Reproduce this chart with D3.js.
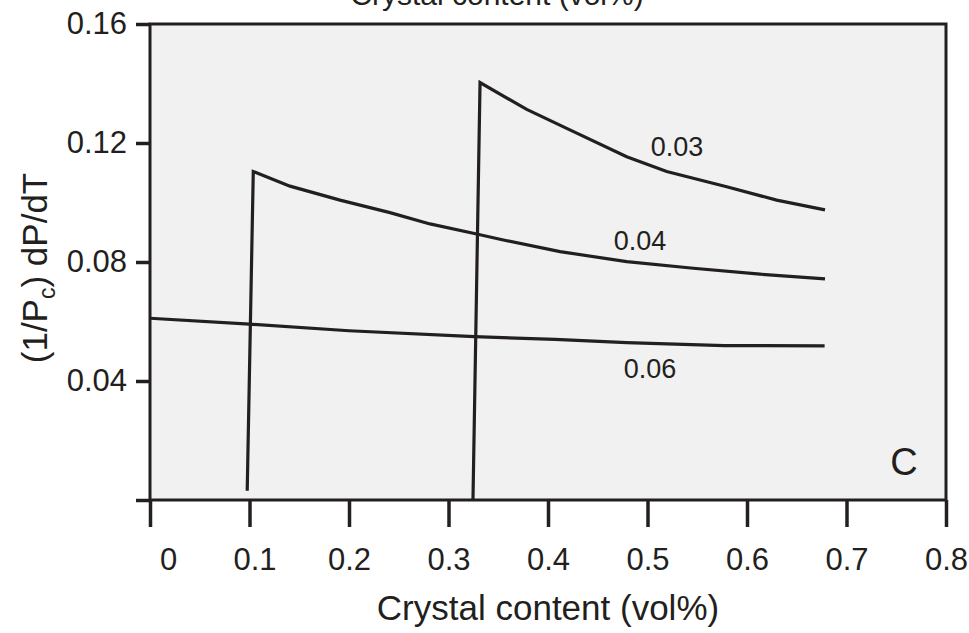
<!DOCTYPE html>
<html>
<head>
<meta charset="utf-8">
<script src="https://cdn.jsdelivr.net/npm/d3@7"></script>
<style>
  html, body { margin: 0; padding: 0; background: #fff; }
  svg { display: block; font-family: "Liberation Sans", Arial, Helvetica, sans-serif; }
</style>
</head>
<body>
<svg id="chart" width="969" height="633"></svg>
<script>
// ---- data ----
const xTicks = [0, 0.1, 0.2, 0.3, 0.4, 0.5, 0.6, 0.7, 0.8];
const xTickLabels = ["0", "0.1", "0.2", "0.3", "0.4", "0.5", "0.6", "0.7", "0.8"];
const yTicks = [0, 0.04, 0.08, 0.12, 0.16];
const yTickLabels = ["", "0.04", "0.08", "0.12", "0.16"];

const seriesNames = ["0.03", "0.04", "0.06"];
const series003 = [[0.3246, 0], [0.3317, 0.1403], [0.3786, 0.1313], [0.4188, 0.1249], [0.4791, 0.1154],
                   [0.5193, 0.1104], [0.5796, 0.1053], [0.6298, 0.1008], [0.6784, 0.0975]];
const series004 = [[0.0977, 0.0031], [0.1038, 0.1104], [0.1407, 0.1055], [0.1910, 0.1008], [0.2412, 0.0966],
                   [0.2814, 0.0928], [0.3283, 0.0894], [0.3551, 0.0874], [0.4121, 0.0835], [0.4791, 0.0801],
                   [0.5460, 0.0779], [0.6131, 0.0759], [0.6784, 0.0743]];
const series006 = [[0, 0.0611], [0.1, 0.0591], [0.2, 0.0569], [0.326, 0.0549], [0.407, 0.0540],
                   [0.479, 0.0529], [0.577, 0.0519], [0.678, 0.0518]];
// label anchor positions (data coords, text baseline)
const labelPos = [[0.5296, 0.1156], [0.4925, 0.0840], [0.5025, 0.0410]];

// ---- layout ----
(function () {
const ink = "#231f20";
const L = 150, R = 946, T = 24, B = 500;
const x = d3.scaleLinear().domain([0, 0.8]).range([L, R]);
const y = d3.scaleLinear().domain([0, 0.16]).range([B, T]);

const svg = d3.select("#chart");

svg.append("rect")
  .attr("x", L).attr("y", T)
  .attr("width", R - L).attr("height", B - T)
  .attr("fill", "#f1f1f1");

const line = d3.line().x(d => x(d[0])).y(d => y(d[1]));
[series003, series004, series006].forEach(s => {
  svg.append("path")
    .attr("d", line(s))
    .attr("fill", "none")
    .attr("stroke", ink)
    .attr("stroke-width", 3.2)
    .attr("stroke-linejoin", "miter")
    .attr("stroke-miterlimit", 20);
});

seriesNames.forEach((n, i) => {
  svg.append("text")
    .attr("x", x(labelPos[i][0])).attr("y", y(labelPos[i][1]))
    .attr("text-anchor", "middle")
    .attr("font-size", 27)
    .attr("fill", ink)
    .text(n);
});

svg.append("rect")
  .attr("x", L).attr("y", T)
  .attr("width", R - L).attr("height", B - T)
  .attr("fill", "none")
  .attr("stroke", ink)
  .attr("stroke-width", 3);

const xAxis = d3.axisBottom(x)
  .tickValues(xTicks)
  .tickSize(27)
  .tickPadding(21)
  .tickFormat((d, i) => xTickLabels[i]);
const gx = svg.append("g").attr("transform", `translate(0,${B})`).call(xAxis);
gx.select(".domain").remove();
gx.selectAll(".tick line").attr("stroke", ink).attr("stroke-width", 3.5);
gx.selectAll(".tick text").attr("fill", ink).attr("font-size", 31)
  .attr("font-family", "Liberation Sans, Arial, sans-serif")
  .attr("dx", (d, i) => i === 0 ? 18 : (i === 1 ? 5 : 0));

const yAxis = d3.axisLeft(y)
  .tickValues(yTicks)
  .tickSize(14)
  .tickPadding(9)
  .tickFormat((d, i) => yTickLabels[i]);
const gy = svg.append("g").attr("transform", `translate(${L},0)`).call(yAxis);
gy.select(".domain").remove();
gy.selectAll(".tick line").attr("stroke", ink).attr("stroke-width", 3.5);
gy.selectAll(".tick text").attr("fill", ink).attr("font-size", 31)
  .attr("font-family", "Liberation Sans, Arial, sans-serif");

svg.append("text")
  .attr("x", 548).attr("y", 620)
  .attr("text-anchor", "middle")
  .attr("font-size", 35)
  .attr("fill", ink)
  .text("Crystal content (vol%)");

// duplicate title at the top, mostly above the frame in the reference
svg.append("text")
  .attr("x", 497).attr("y", 5)
  .attr("text-anchor", "middle")
  .attr("font-size", 30)
  .attr("fill", ink)
  .text("Crystal content (vol%)");

const yl = svg.append("text")
  .attr("transform", "translate(47,268) rotate(-90)")
  .attr("text-anchor", "middle")
  .attr("font-size", 35)
  .attr("fill", ink);
yl.append("tspan").text("(1/P");
yl.append("tspan").attr("font-size", 23).attr("dy", 8).text("c");
yl.append("tspan").attr("dy", -8).text(") dP/dT");

svg.append("text")
  .attr("x", 904).attr("y", 475)
  .attr("text-anchor", "middle")
  .attr("font-size", 38)
  .attr("fill", ink)
  .text("C");
})();
</script>
</body>
</html>
